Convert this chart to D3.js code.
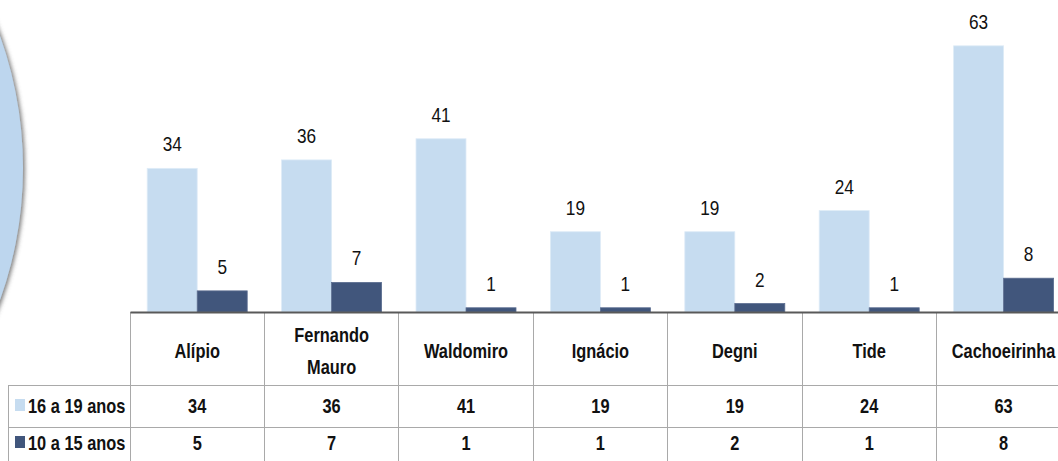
<!DOCTYPE html>
<html lang="pt">
<head>
<meta charset="UTF-8" />
<title>16 a 19 anos / 10 a 15 anos</title>
<script src="https://cdn.jsdelivr.net/npm/d3@7"></script>
<style>
  html, body { margin: 0; padding: 0; background: #fff; overflow: hidden; }
  svg { display: block; font-family: "Liberation Sans", Arial, sans-serif; }
</style>
</head>
<body>
<div id="chart"></div>
<script>
const categories = ["Alípio", "Fernando Mauro", "Waldomiro", "Ignácio", "Degni", "Tide", "Cachoeirinha"];
const series = ["16 a 19 anos", "10 a 15 anos"];
const values16a19 = [34, 36, 41, 19, 19, 24, 63];
const values10a15 = [5, 7, 1, 1, 2, 1, 8];
const colors = ["#c6dcf0", "#41567c"];

const w = 1058, h = 461;
const base = 312;           // baseline of the bars
const rowTop = [385, 427];  // table row lines
const gridColor = "#a9a9a9";
const narrow = 0.82;        // no narrow font installed, so squeeze Liberation Sans

const rows = series.map((s, i) => ({
  name: s,
  color: colors[i],
  values: i === 0 ? values16a19 : values10a15
}));

const svg = d3.select("#chart").append("svg")
  .attr("width", w)
  .attr("height", h);

// text drawn in a squeezed group so it looks like a narrow font
function label(parent, x, y, txt, anchor) {
  return parent.append("g")
    .attr("transform", "translate(" + x + "," + y + ") scale(" + narrow + ",1)")
    .append("text")
    .attr("text-anchor", anchor || "middle")
    .text(txt);
}

// soft shadow for the big circle on the left
const defs = svg.append("defs");
const f = defs.append("filter").attr("id", "shadow")
  .attr("x", "-10%").attr("y", "-10%").attr("width", "130%").attr("height", "130%");
f.append("feDropShadow")
  .attr("dx", 2).attr("dy", 1).attr("stdDeviation", 2.2)
  .attr("flood-color", "#555").attr("flood-opacity", 0.75);

svg.append("circle")
  .attr("cx", -367)
  .attr("cy", 168)
  .attr("r", 390)
  .attr("fill", "#bdd6ee")
  .attr("filter", "url(#shadow)");

// scales
const x0 = d3.scaleBand()
  .domain(categories)
  .range([130, 130 + 134.4 * categories.length])
  .paddingInner(0)
  .paddingOuter(0);

const x1 = d3.scaleBand()
  .domain(series)
  .range([0, x0.bandwidth()])
  .paddingInner(0)
  .paddingOuter(0.344);

const y = d3.scaleLinear()
  .domain([0, 70])
  .range([base, base - 70 * 4.225]);

// bars
const groups = svg.selectAll("g.group")
  .data(categories)
  .enter()
  .append("g")
  .attr("class", "group")
  .attr("transform", d => "translate(" + x0(d) + ",0)");

groups.selectAll("rect")
  .data((d, ci) => rows.map(r => ({ key: r.name, color: r.color, value: r.values[ci] })))
  .enter()
  .append("rect")
  .attr("x", d => x1(d.key))
  .attr("y", d => y(d.value))
  .attr("width", x1.bandwidth())
  .attr("height", d => base - y(d.value))
  .attr("fill", d => d.color)
  .attr("stroke", (d, i) => i === 0 ? "#deebf7" : "#5b6d90")
  .attr("stroke-width", 0.8);

const valLabels = svg.append("g")
  .attr("font-size", 21)
  .attr("fill", "#111");

categories.forEach((c, ci) => {
  rows.forEach(r => {
    const v = r.values[ci];
    label(valLabels, x0(c) + x1(r.name) + x1.bandwidth() / 2, y(v) - 17, v);
  });
});

// table grid
const grid = svg.append("g").attr("stroke", gridColor).attr("stroke-width", 1).attr("shape-rendering", "crispEdges");
const edges = categories.map(c => x0(c)).concat([x0.range()[1]]);
grid.selectAll("line.v")
  .data(edges)
  .enter()
  .append("line")
  .attr("x1", d => d).attr("x2", d => d)
  .attr("y1", base).attr("y2", h);

grid.selectAll("line.h")
  .data(rowTop)
  .enter()
  .append("line")
  .attr("x1", 8).attr("x2", w)
  .attr("y1", d => d).attr("y2", d => d);

grid.append("line")
  .attr("x1", 8).attr("x2", 8)
  .attr("y1", rowTop[0]).attr("y2", h);

// baseline axis
const axis = svg.append("g")
  .attr("transform", "translate(0," + base + ")")
  .call(d3.axisBottom(x0).tickSize(0).tickFormat(""));
axis.select(".domain").attr("stroke", "#595959").attr("stroke-width", 2.2);

// header cells
const head = svg.append("g")
  .attr("font-weight", "bold")
  .attr("font-size", 20)
  .attr("fill", "#111");

categories.forEach(c => {
  const parts = c.split(" ");
  const cx = x0(c) + x0.bandwidth() / 2;
  if (parts.length > 1) {
    parts.forEach((p, i) => label(head, cx, 342 + i * 32, p));
  } else {
    label(head, cx, 358, c);
  }
});

// data rows
const rowCenters = [406, 443];
const body = svg.append("g")
  .attr("font-weight", "bold")
  .attr("font-size", 20)
  .attr("fill", "#111");

rows.forEach((r, ri) => {
  const yc = rowCenters[ri];
  body.append("rect")
    .attr("x", 15).attr("y", yc - 7)
    .attr("width", 10).attr("height", 12)
    .attr("fill", r.color);
  label(body, 28, yc + 7, r.name, "start");
  r.values.forEach((v, i) => {
    label(body, x0(categories[i]) + x0.bandwidth() / 2, yc + 7, v);
  });
});
</script>
</body>
</html>
